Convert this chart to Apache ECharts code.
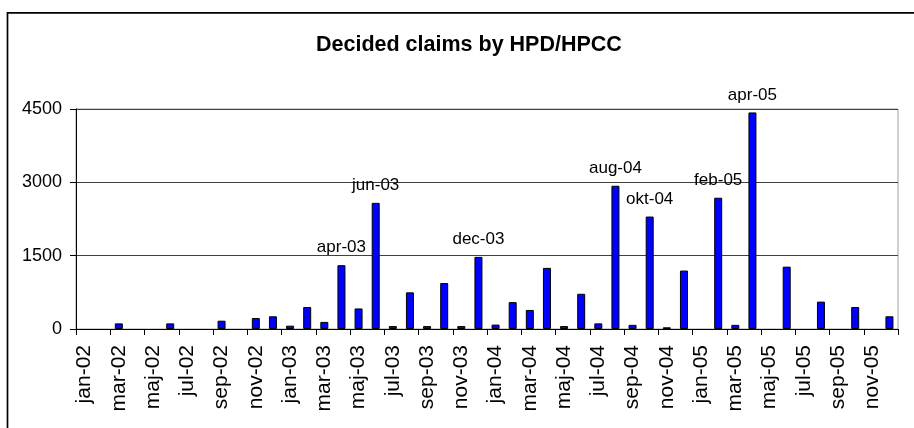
<!DOCTYPE html>
<html>
<head>
<meta charset="utf-8">
<script src="https://cdn.jsdelivr.net/npm/echarts@6/dist/echarts.min.js"></script>
<style>
html,body{margin:0;padding:0;background:#fff;}
#chart{width:914px;height:428px;}
</style>
</head>
<body>
<div id="chart"></div>
<script>
var categories = [
  'jan-02','feb-02','mar-02','apr-02','maj-02','jun-02','jul-02','aug-02','sep-02','okt-02','nov-02','dec-02',
  'jan-03','feb-03','mar-03','apr-03','maj-03','jun-03','jul-03','aug-03','sep-03','okt-03','nov-03','dec-03',
  'jan-04','feb-04','mar-04','apr-04','maj-04','jun-04','jul-04','aug-04','sep-04','okt-04','nov-04','dec-04',
  'jan-05','feb-05','mar-05','apr-05','maj-05','jun-05','jul-05','aug-05','sep-05','okt-05','nov-05','dec-05'
];
var claims = [
  null, null, 115, null, null, 115, null, null, 170, null, 225, 260,
  68, 450, 145, 1305, 420, 2580, 60, 750, 60, 940, 60, 1475,
  90, 550, 390, 1250, 60, 720, 115, 2930, 85, 2300, 35, 1195,
  null, 2685, 85, 4430, null, 1275, null, 560, null, 450, null, 260
];
var labelledMonths = ['apr-03', 'jun-03', 'dec-03', 'aug-04', 'okt-04', 'feb-05', 'apr-05'];
var yTicks = [0, 1500, 3000, 4500];
var titleText = 'Decided claims by HPD/HPCC';

var FONT = "'Liberation Sans', Arial, sans-serif";
var chart = echarts.init(document.getElementById('chart'), null, {renderer: 'canvas'});
chart.setOption({
  backgroundColor: '#ffffff',
  animation: false,
  title: {
    text: titleText,
    left: 316,
    top: 34,
    padding: 0,
    textStyle: {fontFamily: FONT, fontSize: 21.5, fontWeight: 'bold', color: '#000'}
  },
  graphic: [{
    type: 'rect',
    shape: {x: 7.5, y: 12.8, width: 1000, height: 1000},
    style: {fill: 'none', stroke: '#000', lineWidth: 1.7},
    silent: true
  }],
  grid: {
    left: 76, right: 16, top: 109, bottom: 99,
    show: true, borderColor: '#a0a0a0', borderWidth: 1, backgroundColor: 'transparent'
  },
  xAxis: {
    type: 'category',
    data: categories,
    boundaryGap: true,
    axisLine: {lineStyle: {color: '#000', width: 1}},
    axisTick: {show: true, interval: 1, length: 6, lineStyle: {color: '#000'}},
    axisLabel: {
      interval: 1, rotate: 90, margin: 16,
      fontFamily: FONT, fontSize: 21, color: '#000'
    },
    splitLine: {show: false}
  },
  yAxis: {
    type: 'value',
    min: yTicks[0], max: yTicks[yTicks.length - 1], interval: yTicks[1] - yTicks[0],
    axisLine: {show: true, lineStyle: {color: '#000', width: 1}},
    axisTick: {show: true, length: 6, lineStyle: {color: '#000'}},
    axisLabel: {
      margin: 14, fontFamily: FONT, fontSize: 18, color: '#000',
      formatter: function (v) { return String(v); }
    },
    splitLine: {show: true, lineStyle: {color: '#404040', width: 1}}
  },
  series: [{
    type: 'bar',
    data: claims,
    barWidth: 8,
    itemStyle: {color: '#0000ff', borderColor: '#000', borderWidth: 1},
    label: {
      show: true,
      position: 'top',
      distance: 9,
      fontFamily: FONT, fontSize: 17, color: '#000',
      formatter: function (p) {
        return labelledMonths.indexOf(p.name) >= 0 ? p.name : '';
      }
    }
  }]
});
</script>
</body>
</html>
